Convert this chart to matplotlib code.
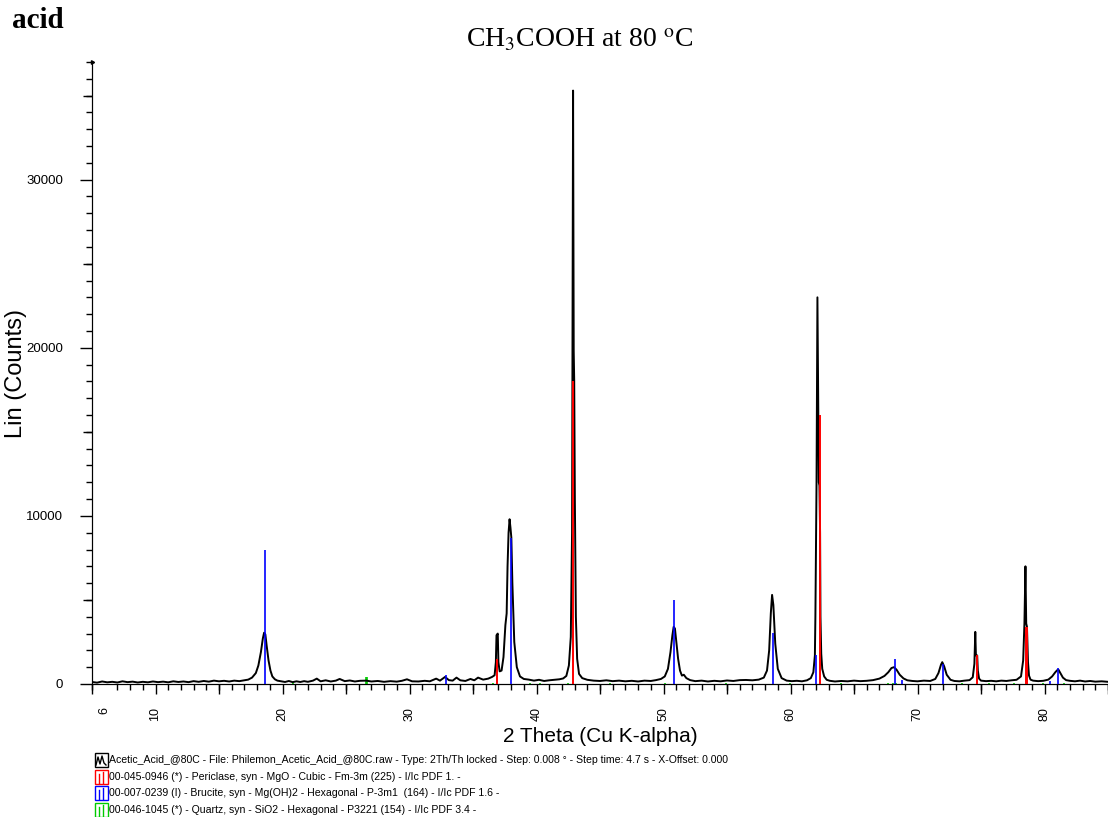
import numpy as np
import matplotlib.pyplot as plt
from matplotlib.patches import Rectangle
from matplotlib.lines import Line2D

tth = [5.0, 5.4, 5.8, 6.2, 6.6, 7.0, 7.4, 7.8, 8.2, 8.6, 9.0, 9.4, 9.8, 10.2, 10.6,
       11.0, 11.4, 11.8, 12.2, 12.6, 13.0, 13.4, 13.8, 14.2, 14.6, 15.0, 15.4, 15.8,
       16.2, 16.6, 17.0, 17.3, 17.6, 17.9, 18.1, 18.3, 18.45, 18.55, 18.65, 18.75,
       18.9, 19.05, 19.2, 19.4, 19.6, 19.9, 20.2, 20.5, 20.8, 21.1, 21.4, 21.7, 22.0,
       22.4, 22.7, 23.0, 23.4, 23.8, 24.2, 24.5, 24.9, 25.3, 25.7, 26.1, 26.6, 27.0,
       27.5, 28.0, 28.5, 29.0, 29.4, 29.8, 30.2, 30.7, 31.2, 31.6, 32.1, 32.4, 32.8,
       33.1, 33.4, 33.7, 34.0, 34.4, 34.8, 35.1, 35.4, 35.8, 36.2, 36.5, 36.7, 36.8,
       36.85, 36.95, 37.0, 37.1, 37.25, 37.4, 37.55, 37.65, 37.72, 37.8, 37.88, 37.95,
       38.02, 38.1, 38.25, 38.45, 38.7, 39.0, 39.4, 39.8, 40.2, 40.6, 41.0, 41.4, 41.8,
       42.1, 42.35, 42.55, 42.7, 42.8, 42.88, 42.93, 42.97, 43.02, 43.1, 43.2, 43.35,
       43.6, 44.0, 44.5, 45.0, 45.5, 46.0, 46.5, 47.0, 47.5, 48.0, 48.5, 49.0, 49.4,
       49.8, 50.1, 50.35, 50.55, 50.7, 50.8, 50.9, 51.0, 51.15, 51.3, 51.45, 51.6,
       51.8, 52.1, 52.5, 53.0, 53.5, 54.0, 54.5, 55.0, 55.5, 56.0, 56.5, 57.0, 57.5,
       57.9, 58.15, 58.32, 58.45, 58.55, 58.65, 58.8, 59.0, 59.3, 59.7, 60.1, 60.5,
       60.9, 61.3, 61.6, 61.8, 61.92, 61.96, 62.05, 62.12, 62.18, 62.23, 62.28, 62.33,
       62.36, 62.42, 62.5, 62.65, 62.85, 63.1, 63.5, 64.0, 64.5, 65.0, 65.5, 66.0,
       66.5, 67.0, 67.4, 67.7, 67.95, 68.15, 68.35, 68.6, 68.9, 69.2, 69.6, 70.0, 70.5,
       71.0, 71.4, 71.65, 71.85, 71.95, 72.1, 72.3, 72.6, 72.9, 73.3, 73.7, 74.1,
       74.35, 74.48, 74.55, 74.6, 74.7, 74.75, 74.85, 75.0, 75.4, 75.8, 76.2, 76.6,
       77.0, 77.4, 77.8, 78.15, 78.32, 78.42, 78.5, 78.56, 78.62, 78.7, 78.78, 78.9,
       79.1, 79.5, 79.9, 80.3, 80.6, 80.85, 81.0, 81.1, 81.25, 81.45, 81.7, 82.0,
       82.4, 82.8, 83.2, 83.6, 84.0, 84.5, 85.0]
counts = [120, 80, 150, 100, 130, 90, 160, 110, 140, 90, 130, 100, 150, 110, 140,
          100, 160, 120, 150, 110, 170, 130, 180, 140, 200, 160, 190, 150,
          200, 170, 220, 260, 380, 650, 1100, 1900, 2700, 3050, 2950, 2300,
          1400, 800, 450, 280, 200, 160, 120, 180, 110, 160, 120, 170, 130,
          200, 320, 160, 220, 150, 200, 300, 170, 210, 150, 190, 200, 150,
          180, 130, 170, 140, 190, 280, 160, 150, 190, 160, 320, 200, 420,
          230, 200, 380, 220, 180, 300, 220, 380, 260, 320, 420, 520, 1300,
          2900, 3000, 1300, 750, 800, 1600, 3500, 4200, 7000, 9000, 9800, 9300,
          8700, 6000, 2500, 1000, 450, 300, 260, 200, 250, 180, 220, 250, 280,
          330, 480, 1100, 2800, 9000, 35300, 19800, 18000, 11000, 4000, 1500, 600,
          350, 250, 200, 180, 220, 170, 200, 160, 190, 150, 200, 180, 230,
          300, 450, 900, 1900, 2900, 3400, 3300, 2600, 1500, 800, 500, 550,
          350, 230, 170, 200, 150, 190, 160, 210, 180, 230, 240, 220, 260,
          380, 800, 2000, 4200, 5300, 4700, 2400, 900, 350, 200, 170, 190,
          160, 220, 350, 700, 1700, 4000, 12000, 23000, 17000, 12000, 11800, 9000,
          4000, 1800, 900, 450, 250, 190, 150, 180, 160, 200, 170, 190,
          230, 320, 480, 700, 950, 1000, 850, 550, 330, 220, 180, 160, 200,
          180, 300, 650, 1150, 1300, 1050, 550, 250, 180, 160, 200, 230,
          400, 1200, 3100, 1700, 1700, 800, 320, 200, 170, 190, 160, 200,
          180, 220, 250, 450, 1400, 3600, 7000, 3600, 3400, 1300, 500, 260,
          200, 170, 190, 260, 450, 700, 820, 850, 650, 380, 230, 190,
          160, 200, 150, 180, 140, 160, 130]

# reference sticks
periclase_x = [36.9, 42.9, 62.3, 74.7, 78.55, 78.65]
periclase_h = [1500, 18000, 16000, 1700, 3400, 3400]
brucite_x = [18.6, 32.85, 38.0, 50.85, 58.65, 62.0, 68.2, 68.8, 72.0, 80.4, 81.1]
brucite_h = [8000, 520, 8700, 5000, 3050, 1700, 1500, 220, 1200, 200, 950]
quartz_x = [20.85, 26.55, 26.65, 36.55, 39.45, 40.3, 42.45, 45.8, 50.1, 54.9,
            59.95, 64.0, 67.7, 68.1, 68.3, 73.5, 75.6, 77.6, 79.9, 81.5]
quartz_h = [60, 400, 400, 50, 50, 40, 50, 40, 60, 40,
            60, 40, 60, 60, 50, 30, 50, 30, 40, 30]

legend_rows = [
    "Acetic_Acid_@80C - File: Philemon_Acetic_Acid_@80C.raw - Type: 2Th/Th locked - Step: 0.008 \u00b0 - Step time: 4.7 s - X-Offset: 0.000",
    "00-045-0946 (*) - Periclase, syn - MgO - Cubic - Fm-3m (225) - I/Ic PDF 1. -",
    "00-007-0239 (I) - Brucite, syn - Mg(OH)2 - Hexagonal - P-3m1  (164) - I/Ic PDF 1.6 -",
    "00-046-1045 (*) - Quartz, syn - SiO2 - Hexagonal - P3221 (154) - I/Ic PDF 3.4 -",
]
legend_colors = ["black", "red", "blue", "#00cc00"]

plt.rcParams['font.family'] = ['Liberation Sans', 'DejaVu Sans']
plt.rcParams['mathtext.fontset'] = 'stix'

W, H = 1108, 817
fig = plt.figure(figsize=(W / 100, H / 100), dpi=100)
ax = fig.add_axes([92 / W, 1 - 684 / H, (W - 92) / W, (684 - 62) / H])

ax.plot(tth, counts, color="black", lw=1.4, zorder=3)
ax.vlines(quartz_x, 0, quartz_h, colors="#00cc00", lw=1.2, zorder=2)
ax.vlines(brucite_x, 0, brucite_h, colors="blue", lw=1.2, zorder=4)
ax.vlines(periclase_x, 0, periclase_h, colors="red", lw=1.4, zorder=4)

ax.set_xlim(5, 85)
ax.set_ylim(0, 37000)
for s in ["top", "right"]:
    ax.spines[s].set_visible(False)

# x ticks: labels only on major, marks from minor + secondary axis
ax.set_xticks([6, 10, 20, 30, 40, 50, 60, 70, 80])
ax.set_xticks(np.arange(5, 86, 1), minor=True)
ax.tick_params(axis="x", which="major", length=0, pad=16.5, labelsize=9,
               labelrotation=90)
ax.tick_params(axis="x", which="minor", length=4, width=1)
secx = ax.secondary_xaxis("bottom")
secx.set_xticks(np.arange(5, 86, 5))
secx.set_xticklabels([])
secx.tick_params(length=7.5, width=1)

ax.set_yticks([0, 10000, 20000, 30000])
ax.set_yticks(np.arange(0, 37001, 1000), minor=True)
ax.tick_params(axis="y", which="major", length=8.5, width=1, labelsize=9.5, pad=12.5)
ax.tick_params(axis="y", which="minor", length=4, width=1)
secy = ax.secondary_yaxis("left")
secy.set_yticks(np.arange(5000, 37000, 10000))
secy.set_yticklabels([])
secy.tick_params(length=6.5, width=1)
ax.plot([0], [1], marker=(3, 0, -90), color="black", ms=3, transform=ax.transAxes,
        clip_on=False)

ax.set_ylabel("Lin (Counts)", fontsize=17)
ax.yaxis.set_label_coords((27 - 92) / (W - 92), 0.5)
fig.text(600 / W, 1 - 737 / H, "2 Theta (Cu K-alpha)", fontsize=15,
         ha="center", va="center")

fig.text(580 / W, 1 - 40 / H, r"CH$_3$COOH at 80 $^{\mathrm{o}}$C",
         family="Liberation Serif", fontsize=20, ha="center", va="center")
fig.text(12 / W, 1 - 21 / H, "acid", family="Liberation Serif", fontweight="bold",
         fontsize=21, ha="left", va="center")

# legend block under the axis
rows_y = [760, 777, 793, 810]
for i, (txt, col) in enumerate(zip(legend_rows, legend_colors)):
    yc = rows_y[i]
    fig.patches.append(Rectangle((95 / W, 1 - (yc + 7) / H), 13 / W, 14 / H,
                                 transform=fig.transFigure, fill=False,
                                 edgecolor=col, lw=1))
    if i == 0:
        zx = np.array([96, 98, 100, 102, 104, 106]) / W
        zy = 1 - np.array([yc + 5, yc - 3, yc + 4, yc - 4, yc + 3, yc + 5]) / H
        fig.lines.append(Line2D(zx, zy, transform=fig.transFigure, color=col, lw=1))
    else:
        for dx, top in [(99, yc - 3), (103, yc - 5)]:
            fig.lines.append(Line2D([dx / W, dx / W], [1 - (yc + 6) / H, 1 - top / H],
                                    transform=fig.transFigure, color=col, lw=1))
    fig.text(109 / W, 1 - yc / H, txt, fontsize=7.6, ha="left", va="center")

fig.savefig("out.png", dpi=100)
